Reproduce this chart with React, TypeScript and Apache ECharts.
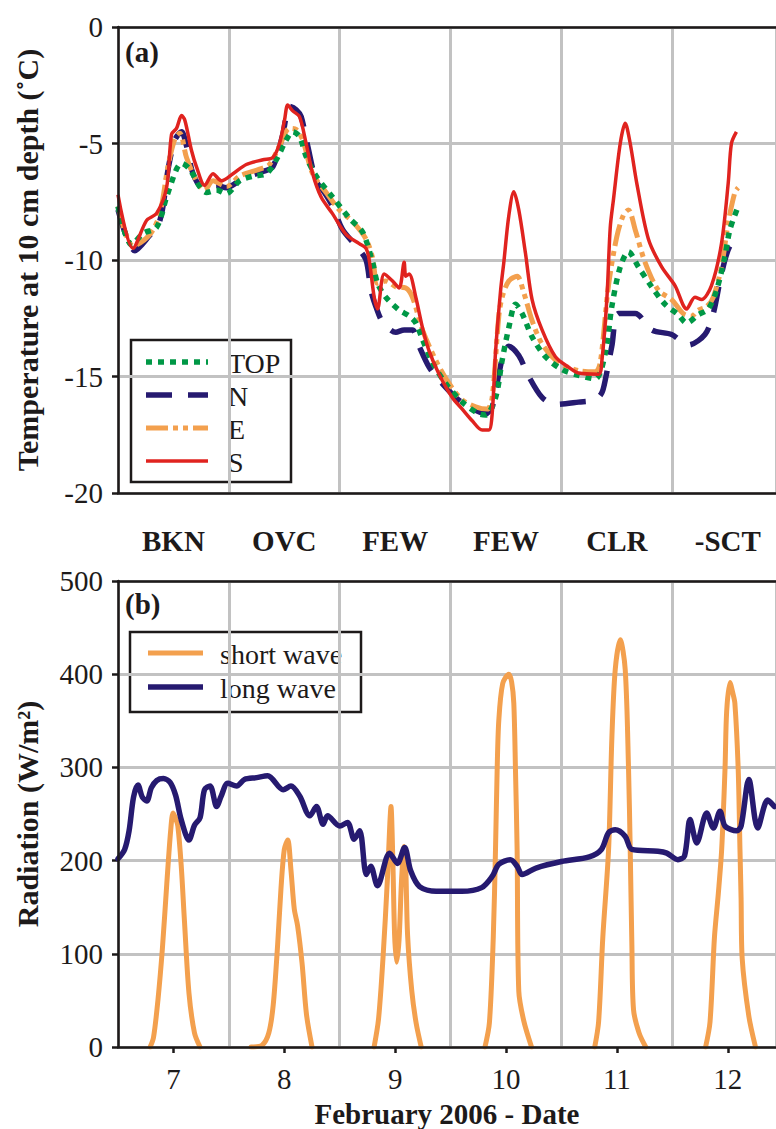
import { useEffect, useRef } from "react";
import * as echarts from "echarts";

// ---- data -------------------------------------------------------------
const dayTicks = [7, 8, 9, 10, 11, 12];
const skyCover = ["BKN", "OVC", "FEW", "FEW", "CLR", "-SCT"];

// soil temperature at 10 cm depth, [day of February 2006, °C]
const tempTop = [
  [6.5, -7.7], [6.623, -9.35], [6.728, -8.85], [6.848, -8.6], [6.938, -7.3], [7.028, -6.1],
  [7.073, -5.85], [7.147, -6.1], [7.237, -6.85], [7.298, -7.1], [7.388, -7.0], [7.478, -7.15],
  [7.597, -6.6], [7.717, -6.4], [7.837, -6.3], [7.927, -5.7], [8.017, -4.85], [8.077, -4.5],
  [8.137, -4.7], [8.197, -5.55], [8.287, -6.4], [8.436, -7.3], [8.586, -8.2], [8.706, -8.8],
  [8.796, -10.1], [8.841, -11.0], [8.916, -11.6], [9.036, -12.15], [9.126, -12.4], [9.186, -12.7],
  [9.246, -13.4], [9.336, -14.4], [9.456, -15.3], [9.605, -16.1], [9.755, -16.6], [9.816, -16.65],
  [9.906, -15.9], [9.965, -14.3], [10.025, -12.9], [10.085, -11.9], [10.145, -12.3], [10.235, -13.3],
  [10.355, -14.15], [10.505, -14.7], [10.655, -14.95], [10.805, -15.1], [10.895, -14.0], [10.954, -12.0],
  [11.03, -10.3], [11.104, -9.65], [11.194, -10.3], [11.314, -11.15], [11.434, -11.9], [11.554, -12.35],
  [11.629, -12.7], [11.734, -12.35], [11.824, -12.1], [11.899, -11.3], [11.974, -9.85], [12.019, -8.7],
  [12.094, -7.7],
];
const tempN = [
  [6.5, -7.85], [6.653, -9.6], [6.758, -9.1], [6.878, -8.3], [6.952, -6.1], [7.013, -4.85],
  [7.073, -4.5], [7.118, -5.1], [7.177, -6.3], [7.267, -6.9], [7.388, -6.8], [7.478, -6.9],
  [7.627, -6.5], [7.807, -6.2], [7.897, -6.0], [7.987, -4.6], [8.047, -3.4], [8.107, -3.55],
  [8.152, -3.85], [8.211, -5.1], [8.287, -6.6], [8.362, -7.1], [8.436, -7.7], [8.526, -8.7],
  [8.647, -9.4], [8.737, -10.0], [8.781, -11.3], [8.826, -12.0], [8.886, -12.65], [9.006, -13.1],
  [9.081, -13.0], [9.156, -13.0], [9.216, -13.7], [9.306, -14.6], [9.396, -15.15], [9.546, -15.9],
  [9.666, -16.3], [9.816, -16.6], [9.875, -16.3], [9.935, -14.9], [9.98, -14.0], [10.025, -13.7],
  [10.115, -14.1], [10.205, -15.0], [10.325, -15.9], [10.445, -16.2], [10.655, -16.1], [10.805, -16.0],
  [10.864, -15.7], [10.895, -15.15], [10.954, -13.7], [11.014, -12.3], [11.165, -12.3], [11.314, -13.0],
  [11.494, -13.2], [11.644, -13.65], [11.794, -13.2], [11.869, -12.3], [11.943, -10.6], [12.019, -9.4],
  [12.094, -9.3],
];
const tempE = [
  [6.5, -7.7], [6.638, -9.4], [6.788, -8.9], [6.878, -8.0], [6.95, -6.0], [7.013, -4.8],
  [7.058, -4.56], [7.118, -5.6], [7.208, -6.6], [7.282, -7.0], [7.357, -6.6], [7.478, -6.85],
  [7.597, -6.4], [7.777, -6.1], [7.867, -5.9], [7.957, -5.1], [8.047, -4.35], [8.107, -4.4],
  [8.166, -4.85], [8.256, -6.3], [8.377, -7.1], [8.496, -7.85], [8.616, -8.35], [8.737, -9.1],
  [8.796, -9.9], [8.841, -11.0], [8.916, -10.9], [9.006, -11.15], [9.096, -11.2], [9.156, -11.6],
  [9.246, -13.0], [9.366, -14.3], [9.486, -15.3], [9.605, -16.0], [9.726, -16.3], [9.83, -16.4],
  [9.875, -15.9], [9.935, -12.4], [9.965, -11.6], [10.025, -10.9], [10.1, -10.7], [10.16, -11.4],
  [10.235, -12.6], [10.325, -13.6], [10.475, -14.4], [10.655, -14.75], [10.805, -14.8], [10.85, -14.4],
  [10.924, -11.1], [10.999, -9.0], [11.059, -8.07], [11.104, -7.85], [11.165, -8.7], [11.254, -10.1],
  [11.374, -11.3], [11.494, -11.7], [11.599, -12.3], [11.674, -12.4], [11.734, -12.15], [11.809, -12.0],
  [11.869, -11.6], [11.943, -10.3], [12.004, -8.4], [12.064, -7.1], [12.094, -6.9],
];
const tempS = [
  [6.5, -7.2], [6.635, -9.5], [6.758, -8.3], [6.848, -8.0], [6.938, -6.9], [6.983, -4.6],
  [7.028, -4.35], [7.073, -3.8], [7.103, -4.0], [7.163, -5.3], [7.208, -6.0], [7.282, -6.8],
  [7.357, -6.3], [7.433, -6.6], [7.537, -6.3], [7.657, -5.9], [7.807, -5.7], [7.897, -5.6],
  [7.957, -5.0], [8.002, -4.0], [8.031, -3.35], [8.076, -3.6], [8.137, -3.85], [8.197, -5.0],
  [8.256, -6.3], [8.332, -7.3], [8.433, -8.0], [8.557, -8.9], [8.676, -9.3], [8.737, -9.5],
  [8.766, -10.0], [8.811, -11.6], [8.841, -12.1], [8.901, -10.6], [8.976, -10.9], [9.036, -11.2],
  [9.081, -10.1], [9.096, -10.7], [9.126, -10.6], [9.186, -11.6], [9.246, -12.9], [9.306, -13.9],
  [9.396, -14.9], [9.515, -15.9], [9.605, -16.4], [9.695, -16.9], [9.785, -17.3], [9.845, -17.3],
  [9.875, -16.6], [9.906, -13.9], [9.951, -11.3], [9.98, -10.1], [10.025, -8.1], [10.07, -7.07],
  [10.115, -7.85], [10.175, -9.7], [10.235, -11.7], [10.325, -13.0], [10.445, -14.15], [10.565, -14.6],
  [10.655, -14.85], [10.835, -14.9], [10.865, -14.3], [10.909, -11.7], [10.94, -8.6], [10.969, -7.4],
  [11.03, -5.0], [11.075, -4.13], [11.12, -5.0], [11.179, -6.7], [11.284, -9.1], [11.404, -10.3],
  [11.524, -11.1], [11.629, -12.1], [11.704, -11.6], [11.763, -11.7], [11.853, -11.1], [11.943, -9.3],
  [12.004, -6.7], [12.033, -5.0], [12.078, -4.5],
];

// radiation, [day, W/m²]; "-" separates the daylight humps of short wave
const shortWave = [
  [6.79, 0], [6.82, 10], [6.86, 50], [6.9, 105], [6.94, 175], [6.975, 232], [6.997, 251], [7.02, 245],
  [7.04, 237], [7.07, 195], [7.1, 134], [7.14, 58], [7.19, 15], [7.24, 0], [7.5, "-"],
  [7.7, 0], [7.8, 2], [7.86, 15], [7.9, 45], [7.94, 110], [7.97, 170], [8.0, 212], [8.031, 222],
  [8.06, 190], [8.09, 148], [8.12, 130], [8.16, 90], [8.2, 35], [8.25, 0], [8.5, "-"],
  [8.81, 0], [8.85, 30], [8.89, 95], [8.93, 180], [8.952, 240], [8.962, 258], [8.978, 205],
  [8.995, 120], [9.013, 91], [9.035, 115], [9.058, 180], [9.081, 215], [9.095, 195], [9.112, 120],
  [9.15, 60], [9.19, 25], [9.235, 0], [9.5, "-"],
  [9.81, 0], [9.85, 26], [9.885, 118], [9.905, 212], [9.92, 298], [9.935, 351], [9.97, 390],
  [10.025, 400], [10.05, 392], [10.07, 369], [10.085, 298], [10.1, 212], [10.115, 60], [10.16, 28],
  [10.23, 0], [10.5, "-"],
  [10.8, 0], [10.835, 27], [10.873, 118], [10.925, 212], [10.955, 333], [10.985, 405], [11.03, 437],
  [11.075, 405], [11.105, 298], [11.12, 212], [11.135, 110], [11.15, 40], [11.2, 15], [11.26, 0],
  [11.5, "-"],
  [11.8, 0], [11.84, 27], [11.88, 118], [11.915, 165], [11.945, 212], [11.975, 298], [11.99, 360],
  [12.02, 391], [12.045, 380], [12.064, 369], [12.094, 298], [12.11, 212], [12.12, 160], [12.13, 95],
  [12.19, 33], [12.25, 0],
];
const longWave = [
  [6.5, 202], [6.56, 212], [6.6, 232], [6.64, 268], [6.68, 281], [6.72, 268], [6.76, 264], [6.8, 278],
  [6.85, 286], [6.91, 288], [6.97, 284], [7.02, 270], [7.07, 244], [7.14, 222], [7.19, 238], [7.24, 246],
  [7.28, 276], [7.33, 280], [7.39, 258], [7.43, 269], [7.49, 283], [7.57, 280], [7.64, 287], [7.75, 289],
  [7.85, 291], [7.99, 276], [8.06, 280], [8.14, 269], [8.23, 248], [8.29, 258], [8.35, 239], [8.39, 248],
  [8.5, 237], [8.57, 241], [8.63, 223], [8.68, 232], [8.74, 185], [8.78, 194], [8.84, 173], [8.95, 208],
  [9.02, 197], [9.085, 214], [9.14, 189], [9.22, 172], [9.37, 167], [9.6, 167], [9.78, 171], [9.875, 183],
  [9.935, 196], [10.04, 201], [10.1, 194], [10.145, 185], [10.27, 192], [10.5, 199], [10.75, 204],
  [10.86, 212], [10.925, 230], [10.985, 233], [11.075, 226], [11.135, 212], [11.37, 210], [11.45, 208],
  [11.55, 201], [11.61, 205], [11.66, 244], [11.72, 219], [11.81, 251], [11.87, 235], [11.93, 253],
  [11.975, 237], [12.08, 232], [12.12, 237], [12.19, 287], [12.27, 235], [12.36, 265], [12.42, 258],
];

const probeNames = ["TOP", "N", "E", "S"];
const radiationNames = ["short wave", "long wave"];

// ---- styling ----------------------------------------------------------
const FONT = "'Liberation Serif', 'Times New Roman', serif";
const INK = "#1d1a1a";
const GRID = "#c2c2c2";
const X_MIN = 6.5;
const X_MAX = 12.435;

const probeStyles: Record<string, { color: string; width: number; dash: number[] | "solid" }> = {
  TOP: { color: "#009846", width: 5.5, dash: [6, 6] },
  N: { color: "#261a70", width: 5.5, dash: [26, 16] },
  E: { color: "#f3a04e", width: 5, dash: [22, 5, 5, 5, 5, 5] },
  S: { color: "#e0231f", width: 3.5, dash: "solid" },
};
const radiationStyles: Record<string, { color: string; width: number }> = {
  "short wave": { color: "#f3a04e", width: 5 },
  "long wave": { color: "#261a70", width: 5.5 },
};
const probeData: Record<string, number[][]> = { TOP: tempTop, N: tempN, E: tempE, S: tempS };
const radiationData: Record<string, (number | string)[][]> = {
  "short wave": shortWave,
  "long wave": longWave,
};

function xAxesFor(gridIndex: number, bottomExtra: any) {
  const base = { type: "value", gridIndex, min: X_MIN, max: X_MAX };
  return [
    // half-day grid lines
    {
      ...base,
      interval: 1,
      axisLine: { show: false },
      axisTick: { show: false },
      axisLabel: { show: false },
      splitLine: { show: true, lineStyle: { color: GRID, width: 3 } },
    },
    // bottom frame line with day labels
    {
      ...base,
      position: "bottom",
      z: 10,
      axisLine: { show: true, onZero: false, lineStyle: { color: INK, width: 2.5 } },
      splitLine: { show: false },
      ...bottomExtra,
    },
    // top frame line
    {
      ...base,
      position: "top",
      z: 10,
      axisLine: { show: true, onZero: false, lineStyle: { color: INK, width: 2.5 } },
      axisTick: { show: false },
      axisLabel: { show: false },
      splitLine: { show: false },
    },
  ];
}

function yAxesFor(
  gridIndex: number,
  min: number,
  max: number,
  interval: number,
  name: string,
  namePadding: number[]
) {
  return [
    {
      type: "value",
      gridIndex,
      min,
      max,
      interval,
      name,
      nameLocation: "middle",
      nameRotate: 90,
      nameGap: 76,
      nameTextStyle: {
        fontFamily: FONT,
        fontWeight: "bold",
        fontSize: 30,
        color: INK,
        padding: namePadding,
      },
      axisLine: { show: false },
      axisTick: { show: true, length: 6, lineStyle: { color: INK, width: 2.5 } },
      axisLabel: { fontFamily: FONT, fontSize: 29, color: INK, margin: 15 },
      splitLine: { show: true, lineStyle: { color: GRID, width: 3 } },
    },
    {
      type: "value",
      gridIndex,
      min,
      max,
      interval,
      position: "left",
      z: 10,
      axisLine: { show: true, onZero: false, lineStyle: { color: INK, width: 2.5 } },
      axisTick: { show: false },
      axisLabel: { show: false },
      splitLine: { show: false },
    },
  ];
}

function legendGraphic(
  box: { x: number; y: number; w: number; h: number },
  rows: { name: string; color: string; width: number; dash: number[] | "solid"; y: number }[],
  lineX: [number, number],
  textX: number
) {
  const children: any[] = [
    {
      type: "rect",
      shape: { x: box.x, y: box.y, width: box.w, height: box.h },
      style: { fill: "#fff", stroke: INK, lineWidth: 2.5 },
    },
  ];
  rows.forEach((r) => {
    children.push({
      type: "line",
      shape: { x1: lineX[0], y1: r.y, x2: lineX[1], y2: r.y },
      style: {
        stroke: r.color,
        lineWidth: r.width,
        lineDash: r.dash === "solid" ? null : r.dash,
        lineCap: "butt",
      },
    });
    children.push({
      type: "text",
      x: textX,
      y: r.y + 1,
      style: {
        text: r.name,
        font: `28px ${FONT}`,
        fontFamily: FONT,
        fontSize: 28,
        fill: INK,
        verticalAlign: "middle",
        align: "left",
      },
    });
  });
  return { type: "group", z: 50, children };
}

function panelTag(text: string, y: number) {
  return {
    type: "text",
    x: 125,
    y,
    z: 50,
    style: {
      text,
      font: `bold 29px ${FONT}`,
      fontFamily: FONT,
      fontWeight: "bold",
      fontSize: 29,
      fill: INK,
      verticalAlign: "middle",
    },
  };
}

export default function App() {
  const ref = useRef<HTMLDivElement>(null);

  useEffect(() => {
    if (!ref.current) return;
    const chart = echarts.init(ref.current, undefined, { renderer: "svg" });

    const tempSeries = ["N", "E", "TOP", "S"].map((name) => {
      const s = probeStyles[name];
      return {
        name,
        type: "line",
        xAxisIndex: 1,
        yAxisIndex: 0,
        data: probeData[name],
        showSymbol: false,
        symbol: "none",
        smooth: 0.3,
        lineStyle: { color: s.color, width: s.width, type: s.dash, cap: "butt" },
        z: 2,
      };
    });

    const radSeries = radiationNames.map((name) => {
      const s = radiationStyles[name];
      return {
        name,
        type: "line",
        xAxisIndex: 4,
        yAxisIndex: 2,
        data: radiationData[name],
        showSymbol: false,
        symbol: "none",
        smooth: 0.3,
        connectNulls: false,
        lineStyle: { color: s.color, width: s.width, cap: "round", join: "round" },
        z: 2,
      };
    });

    const option: any = {
      animation: false,
      backgroundColor: "#fff",
      textStyle: { fontFamily: FONT },
      grid: [
        { left: 118, top: 27, width: 660, height: 466 },
        { left: 118, top: 581, width: 660, height: 467 },
      ],
      xAxis: [
        ...xAxesFor(0, {
          axisTick: { show: false },
          axisLabel: {
            customValues: dayTicks,
            formatter: (v: number) => skyCover[dayTicks.indexOf(Math.round(v))] ?? "",
            fontFamily: FONT,
            fontWeight: "bold",
            fontSize: 29,
            color: INK,
            margin: 33,
          },
        }),
        ...xAxesFor(1, {
          axisTick: {
            show: true,
            customValues: dayTicks,
            length: 6,
            lineStyle: { color: INK, width: 2.5 },
          },
          axisLabel: {
            customValues: dayTicks,
            formatter: (v: number) => String(Math.round(v)),
            fontFamily: FONT,
            fontSize: 29,
            color: INK,
            margin: 17,
          },
          name: "February 2006 - Date",
          nameLocation: "middle",
          nameGap: 52,
          nameTextStyle: { fontFamily: FONT, fontWeight: "bold", fontSize: 29, color: INK },
        }),
      ],
      yAxis: [
        ...yAxesFor(0, -20, 0, 5, "Temperature at 10 cm depth (˚C)", [0, 0, 0, 0]),
        ...yAxesFor(1, 0, 500, 100, "Radiation (W/m²)", [0, 0, 0, 0]),
      ],
      series: [...tempSeries, ...radSeries],
      graphic: [
        panelTag("(a)", 52),
        panelTag("(b)", 604),
        legendGraphic(
          { x: 131, y: 340, w: 160, h: 142 },
          probeNames.map((n, i) => ({ name: n, ...probeStyles[n], y: 362 + i * 33 })),
          [146, 208],
          228
        ),
        legendGraphic(
          { x: 130, y: 632, w: 231, h: 80 },
          radiationNames.map((n, i) => ({
            name: n,
            ...radiationStyles[n],
            dash: "solid" as const,
            y: 653 + i * 34,
          })),
          [148, 203],
          220
        ),
      ],
    };

    chart.setOption(option);
    return () => chart.dispose();
  }, []);

  return (
    <div
      ref={ref}
      style={{ position: "absolute", left: 0, top: 0, width: 776, height: 1129 }}
    />
  );
}
